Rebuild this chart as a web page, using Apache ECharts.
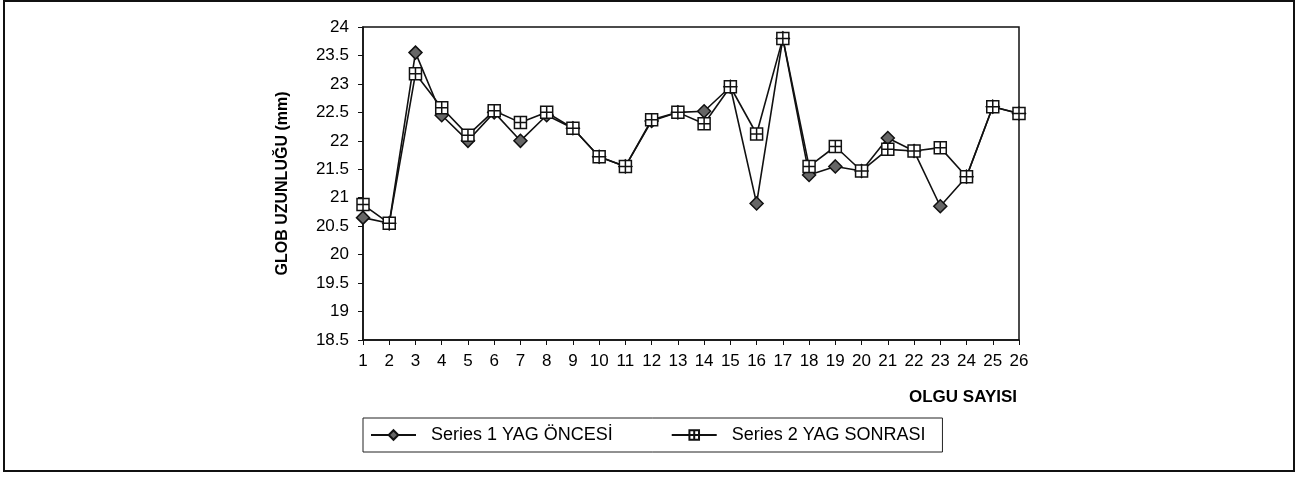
<!DOCTYPE html>
<html>
<head>
<meta charset="utf-8">
<script src="https://cdn.jsdelivr.net/npm/echarts@6/dist/echarts.min.js"></script>
<style>
  html, body { margin: 0; padding: 0; background: #fff; }
  #chart { width: 1299px; height: 477px; }
</style>
</head>
<body>
<div id="chart"></div>
<script>
// case numbers along the x axis
const olgu = ['1','2','3','4','5','6','7','8','9','10','11','12','13','14','15','16','17','18','19','20','21','22','23','24','25','26'];

// globe length before oil (mm)
const yagOncesi = [20.65, 20.55, 23.55, 22.45, 22.0, 22.5, 22.0, 22.45, 22.22, 21.72, 21.55, 22.35, 22.5,
  22.52, 22.95, 20.9, 23.8, 21.4, 21.55, 21.47, 22.05, 21.82, 20.85, 21.37, 22.6, 22.48];
// globe length after oil (mm)
const yagSonrasi = [20.88, 20.55, 23.18, 22.58, 22.1, 22.53, 22.32, 22.5, 22.22, 21.72, 21.55, 22.37, 22.5,
  22.3, 22.95, 22.12, 23.8, 21.55, 21.9, 21.47, 21.85, 21.82, 21.88, 21.37, 22.6, 22.48];

const FONT = '"Liberation Sans", Arial, sans-serif';
const squareCross = 'path://M0,0H10V10H0Z M5,0V10 M0,5H10';

const chart = echarts.init(document.getElementById('chart'));

chart.setOption({
  animation: false,
  backgroundColor: '#fff',
  textStyle: { fontFamily: FONT, color: '#000' },
  graphic: [{
    type: 'rect',
    shape: { x: 4, y: 1, width: 1290, height: 470 },
    style: { fill: 'none', stroke: '#111', lineWidth: 2 },
    silent: true
  }],
  grid: {
    left: 363, right: 280, top: 27, bottom: 137,
    show: true, borderColor: '#111', borderWidth: 1.5
  },
  legend: {
    left: 363, top: 418,
    padding: [8, 17, 8, 7],
    itemGap: 58,
    itemWidth: 45,
    itemHeight: 12,
    borderColor: '#222', borderWidth: 1,
    textStyle: { fontFamily: FONT, fontSize: 18, color: '#000', padding: [0, 0, 0, 10] },
    data: ['Series 1 YAG ÖNCESİ', 'Series 2 YAG SONRASI']
  },
  xAxis: {
    type: 'category',
    data: olgu,
    boundaryGap: false,
    name: 'OLGU SAYISI',
    nameLocation: 'end',
    nameGap: 0,
    nameTextStyle: {
      fontFamily: FONT, fontSize: 17, fontWeight: 'bold', color: '#000',
      align: 'right', verticalAlign: 'top', padding: [49, 2, 0, 0]
    },
    axisLine: { lineStyle: { color: '#111', width: 1.5 } },
    axisTick: { inside: false, length: 5, alignWithLabel: true, lineStyle: { color: '#111' } },
    axisLabel: { fontFamily: FONT, fontSize: 17, color: '#000', margin: 13, interval: 0 },
    splitLine: { show: false }
  },
  yAxis: {
    type: 'value',
    min: 18.5, max: 24, interval: 0.5,
    name: 'GLOB UZUNLUĞU (mm)',
    nameLocation: 'middle',
    nameGap: 72,
    nameTextStyle: { fontFamily: FONT, fontSize: 16, fontWeight: 'bold', color: '#000' },
    axisLine: { show: true, lineStyle: { color: '#111', width: 1.5 } },
    axisTick: { show: true, inside: false, length: 5, lineStyle: { color: '#111' } },
    axisLabel: { fontFamily: FONT, fontSize: 17, color: '#000', margin: 14 },
    splitLine: { show: false }
  },
  series: [
    {
      name: 'Series 1 YAG ÖNCESİ',
      type: 'line',
      data: yagOncesi,
      symbol: 'diamond',
      symbolSize: 13,
      lineStyle: { color: '#111', width: 1.6 },
      itemStyle: { color: '#666', borderColor: '#111', borderWidth: 1.5 }
    },
    {
      name: 'Series 2 YAG SONRASI',
      type: 'line',
      data: yagSonrasi,
      symbol: squareCross,
      symbolSize: 12,
      lineStyle: { color: '#111', width: 1.6 },
      itemStyle: { color: '#fff', borderColor: '#111', borderWidth: 1.5 }
    }
  ]
});
</script>
</body>
</html>
